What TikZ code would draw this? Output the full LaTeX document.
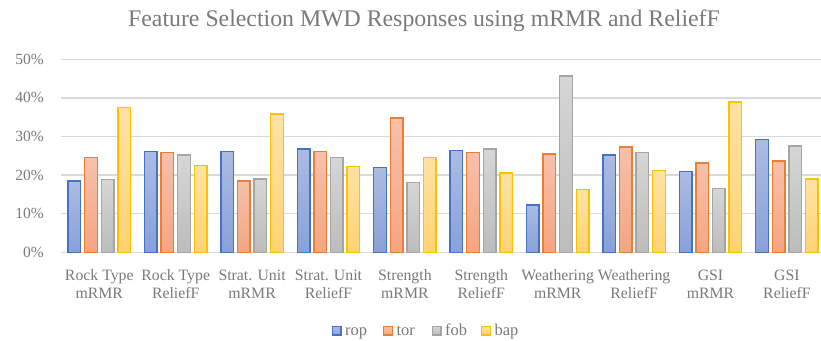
\documentclass[tikz,border=0pt]{standalone}
\usepackage{fontspec}
\setmainfont{Liberation Serif}

\definecolor{txt}{RGB}{122,122,122}
\definecolor{gridc}{RGB}{217,217,217}
\definecolor{ropE}{RGB}{68,114,196}
\definecolor{ropT}{RGB}{172,187,226}
\definecolor{ropB}{RGB}{136,160,218}
\definecolor{torE}{RGB}{237,125,49}
\definecolor{torT}{RGB}{247,192,170}
\definecolor{torB}{RGB}{244,165,130}
\definecolor{fobE}{RGB}{165,165,165}
\definecolor{fobT}{RGB}{214,214,214}
\definecolor{fobB}{RGB}{188,188,188}
\definecolor{bapE}{RGB}{255,192,0}
\definecolor{bapT}{RGB}{255,226,163}
\definecolor{bapB}{RGB}{255,211,115}

% vertical scale: 0% at y=252.3, 3.86pt per percent
\newcommand{\chartbar}[3]{%
  \path[draw=#3E, top color=#3T, bottom color=#3B, line width=1.4pt]
    ({#1-6.3},252.3) rectangle ({#1+6.3},{252.3-3.86*#2});}

\tikzset{
  gridline/.style={draw=gridc, line width=1.3pt},
  ticklab/.style={text=txt, font=\fontsize{15.5}{18}\selectfont, inner sep=0pt, anchor=east},
  catlab/.style={text=txt, font=\fontsize{15.8}{18}\selectfont, inner sep=0pt, anchor=base},
  leglab/.style={text=txt, font=\fontsize{16.5}{18}\selectfont, inner sep=0pt, anchor=base west},
  legsq/.style={minimum size=8.6pt, inner sep=0pt, line width=1.4pt},
  titlelab/.style={text=txt, font=\fontsize{23.8}{26}\selectfont, inner sep=0pt, anchor=base}
}

\begin{document}
\begin{tikzpicture}[x=1pt,y=-1pt]
\useasboundingbox (0,0) rectangle (821,340);
\fill[white] (0,0) rectangle (821,340);

\node[titlelab] (title) at (424,26.5) {Feature Selection MWD Responses using mRMR and ReliefF};

% grid and value axis labels
\foreach \v in {0,10,20,30,40,50}{
  \draw[gridline] (61,{252.3-3.86*\v}) -- (821,{252.3-3.86*\v});
  \node[ticklab] (tick\v) at (44,{252.3-3.86*\v}) {\v\%};
}

% bars: rop, tor, fob, bap for each category
\foreach \g/\a/\b/\c/\d/\la/\lb in {
  1/18.5/24.6/18.8/37.5/Rock Type/mRMR,
  2/26.1/25.8/25.2/22.5/Rock Type/ReliefF,
  3/26.1/18.5/19.0/35.8/Strat. Unit/mRMR,
  4/26.8/26.1/24.6/22.2/Strat. Unit/ReliefF,
  5/21.9/34.8/18.1/24.6/Strength/mRMR,
  6/26.3/25.8/26.8/20.5/Strength/ReliefF,
  7/12.3/25.5/45.7/16.2/Weathering/mRMR,
  8/25.2/27.3/25.8/21.2/Weathering/ReliefF,
  9/20.9/23.1/16.5/38.9/GSI/mRMR,
  10/29.2/23.7/27.5/19.0/GSI/ReliefF}{
  \pgfmathsetmacro\cx{99.3+76.4*(\g-1)}
  \chartbar{\cx-24.9}{\a}{rop}
  \chartbar{\cx-8.3}{\b}{tor}
  \chartbar{\cx+8.3}{\c}{fob}
  \chartbar{\cx+24.9}{\d}{bap}
  \node[catlab] (cat\g a) at (\cx,280) {\la};
  \node[catlab] (cat\g b) at (\cx,298.5) {\lb};
}

% legend
\foreach \k/\x in {rop/336.7, tor/388, fob/436.7, bap/486}{
  \node[legsq, draw=\k E, top color=\k T, bottom color=\k B] (leg\k) at (\x,330.5) {};
  \node[leglab] (leg\k text) at ({\x+8.3},335) {\k};
}
\end{tikzpicture}
\end{document}
